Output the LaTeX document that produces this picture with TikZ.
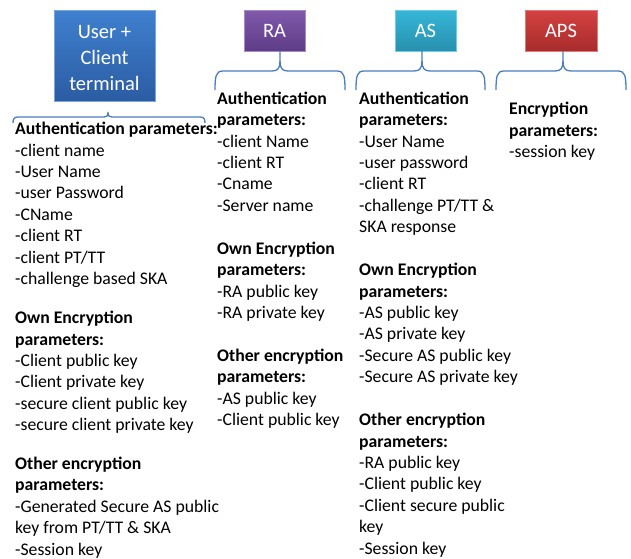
\documentclass[tikz,border=0pt]{standalone}
\usepackage{fontspec}
\setmainfont{Carlito}
\definecolor{bracecol}{HTML}{4A7EBB}
\definecolor{userTop}{HTML}{3F80CF}
\definecolor{userBot}{HTML}{2B5CA3}
\definecolor{raTop}{HTML}{8159AC}
\definecolor{raBot}{HTML}{5E3C86}
\definecolor{asTop}{HTML}{36B6D8}
\definecolor{asBot}{HTML}{2890AE}
\definecolor{apsTop}{HTML}{D44141}
\definecolor{apsBot}{HTML}{A82C2C}
\tikzset{
  box/.style={draw=#1Top!70!white, line width=0.6pt, top color=#1Top, bottom color=#1Bot,
    text=white, align=center, inner sep=0pt,
    font=\fontsize{20.5}{25.8}\selectfont},
  col/.style={anchor=north west, align=left, inner sep=0pt,
    font=\fontsize{17.7}{21.4}\selectfont},
  bracket/.style={draw=bracecol, line width=1.3pt}
}
\begin{document}
\begin{tikzpicture}[x=1pt,y=-1pt]
\useasboundingbox (0,0) rectangle (631,558);
% header boxes
\node[box=user, minimum width=101pt, minimum height=91pt] (user) at (104.5,55.5) {\strut User +\\Client\\terminal};
\node[box=ra, minimum width=61pt, minimum height=41pt] (ra) at (274.5,30.5) {RA};
\node[box=as, minimum width=61pt, minimum height=41pt] (as) at (425.5,30.5) {AS};
\node[box=aps, minimum width=72pt, minimum height=41pt] (aps) at (561,30.5) {APS};
% brackets
\draw[bracket] (13,123) .. controls (13,119) and (14,117) .. (18,117) -- (104,117)
  .. controls (107,117) and (108,116) .. (108,112)
  .. controls (108,116) and (109,117) .. (112,117) -- (200,117)
  .. controls (204,117) and (205,119) .. (205,123);
\draw[bracket] (215,90) .. controls (215,76) and (216,71) .. (223,71) -- (272,71)
  .. controls (278,71) and (280,68) .. (280,61) -- (280,51);
\draw[bracket] (280,61) .. controls (280,68) and (282,71) .. (288,71) -- (337,71)
  .. controls (344,71) and (345,76) .. (345,90);
\draw[bracket] (356,90) .. controls (356,76) and (357,71) .. (364,71) -- (414,71)
  .. controls (420,71) and (422,68) .. (422,61) -- (422,51);
\draw[bracket] (422,61) .. controls (422,68) and (424,71) .. (430,71) -- (477,71)
  .. controls (484,71) and (485,76) .. (485,90);
\draw[bracket] (496,90) .. controls (496,76) and (497,71) .. (504,71) -- (555,71)
  .. controls (561,71) and (563,68) .. (563,61) -- (563,51);
\draw[bracket] (563,61) .. controls (563,68) and (565,71) .. (571,71) -- (618,71)
  .. controls (625,71) and (626,76) .. (626,90);
% text columns
\node[col] (colU) at (15,119.5) {\strut\textbf{Authentication parameters:}\\
-client name\\-User Name\\-user Password\\-CName\\-client RT\\-client PT/TT\\
-challenge based SKA\\[17.8pt]
\textbf{Own Encryption}\\\textbf{parameters:}\\-Client public key\\-Client private key\\
-secure client public key\\-secure client private key\\[17.4pt]
\textbf{Other encryption}\\\textbf{parameters:}\\-Generated Secure AS public\\
key from PT/TT \&\ SKA\\-Session key};
\node[col] (colRA) at (217,89.2) {\strut\textbf{Authentication}\\\textbf{parameters:}\\
-client Name\\-client RT\\-Cname\\-Server name\\[21.6pt]
\textbf{Own Encryption}\\\textbf{parameters:}\\-RA public key\\-RA private key\\[21.6pt]
\textbf{Other encryption}\\\textbf{parameters:}\\-AS public key\\-Client public key};
\node[col] (colAS) at (359,89.2) {\strut\textbf{Authentication}\\\textbf{parameters:}\\
-User Name\\-user password\\-client RT\\-challenge PT/TT \&\\SKA response\\[21.6pt]
\textbf{Own Encryption}\\\textbf{parameters:}\\-AS public key\\-AS private key\\
-Secure AS public key\\-Secure AS private key\\[21.6pt]
\textbf{Other encryption}\\\textbf{parameters:}\\-RA public key\\-Client public key\\
-Client secure public\\key\\-Session key};
\node[col] (colAPS) at (509,99.5) {\strut\textbf{Encryption}\\\textbf{parameters:}\\-session key};
\end{tikzpicture}
\end{document}
